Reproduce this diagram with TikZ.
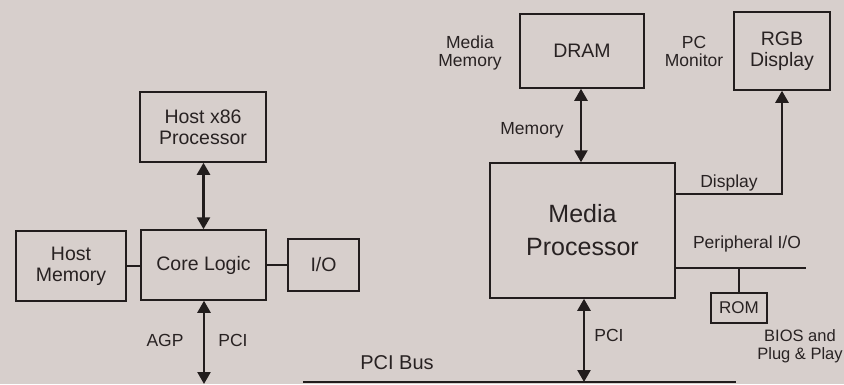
\documentclass[tikz,border=0pt]{standalone}
\usepackage{fontspec}
\setmainfont{Liberation Sans}
\usetikzlibrary{arrows.meta}
\definecolor{paper}{RGB}{215,207,204}
\definecolor{ink}{RGB}{34,29,29}
\definecolor{txt}{RGB}{40,34,34}
\tikzset{
  blk/.style={draw=ink, line width=1.5pt, rectangle, inner sep=0pt, align=center,
              text=txt, font=\fontsize{19.5}{21}\selectfont},
  lbl/.style={text=txt, align=center, inner sep=0pt, font=\fontsize{17.5}{18}\selectfont},
  wire/.style={draw=ink, line width=1.5pt},
  bus/.style={draw=ink, line width=2pt},
  tip/.style={Triangle[length=12pt,width=13pt]},
  dual/.style={draw=ink, line width=2.4pt, {Triangle[length=12pt,width=13pt]}-{Triangle[length=12pt,width=13pt]}},
  single/.style={draw=ink, line width=2.4pt, -{Triangle[length=12pt,width=13pt]}},
}
\begin{document}
\begin{tikzpicture}[x=1pt,y=-1pt]
  \fill[paper] (0,0) rectangle (844,384);
  \useasboundingbox (0,0) rectangle (844,384);

  % host side
  \node[blk, minimum width=126pt, minimum height=70pt] (cpu) at (203,127) {Host x86\\Processor};
  \node[blk, minimum width=125pt, minimum height=70pt] (core) at (203.5,265) {Core Logic};
  \node[blk, minimum width=110pt, minimum height=70pt] (hmem) at (71,266) {Host\\Memory};
  \node[blk, minimum width=71pt, minimum height=52pt] (io) at (323.5,265) {I/O};

  \draw[dual] (cpu.south -| core.north) -- (core.north);
  \draw[wire] (hmem.east) -- (hmem.east -| core.west);
  \draw[wire] (core.east) -- (core.east -| io.west);

  \coordinate (agpend) at (204,384);
  \draw[dual] (core.south -| agpend) -- (agpend);
  \node[lbl] (agp) at (165,340) {AGP};
  \node[lbl] (pcil) at (233,340) {PCI};

  % PCI bus
  \coordinate (busl) at (303,382);
  \coordinate (busr) at (736,382);
  \draw[bus] (busl) -- (busr);
  \node[lbl, font=\fontsize{20}{22}\selectfont] (busname) at (397,363) {PCI Bus};

  % media processor side
  \node[blk, minimum width=124pt, minimum height=74pt] (dram) at (582,51) {DRAM};
  \node[blk, minimum width=96pt, minimum height=78pt] (rgb) at (782,51) {RGB\\Display};
  \node[blk, minimum width=185pt, minimum height=135pt,
        font=\fontsize{25}{33}\selectfont] (mp) at (582.5,230.5) {Media\\Processor};
  \node[blk, minimum width=56pt, minimum height=30pt,
        font=\fontsize{17}{18}\selectfont] (rom) at (739,308) {ROM};

  \node[lbl] (mmem) at (470,53) {Media\\Memory};
  \node[lbl] (pcmon) at (694,51) {PC\\Monitor};

  \draw[dual] (dram.south -| 581,0) -- (mp.north -| 581,0);
  \node[lbl] (memlbl) at (532,130) {Memory};

  \coordinate (dispy) at (0,194);
  \draw[single] (mp.east |- dispy) -| (rgb.south);
  \node[lbl] (displbl) at (729,183) {Display};

  \coordinate (perend) at (806,268);
  \draw[wire] (mp.east |- perend) -- (perend);
  \node[lbl] (perlbl) at (747,244) {Peripheral I/O};
  \draw[wire] (rom.north) -- (rom.north |- perend);
  \node[lbl, font=\fontsize{16.5}{18}\selectfont] (bios) at (800,346) {BIOS and\\Plug \& Play};

  \draw[dual] (mp.south -| 584,0) -- (busl -| 584,0);
  \node[lbl] (pcir) at (609,335) {PCI};
\end{tikzpicture}
\end{document}
